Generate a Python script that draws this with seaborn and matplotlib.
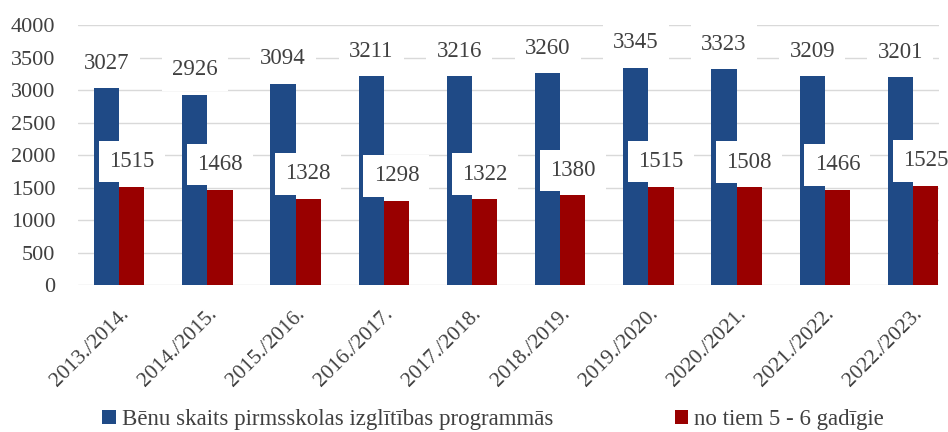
import matplotlib
matplotlib.use("Agg")
import matplotlib.pyplot as plt
import seaborn as sns
import pandas as pd

years = ["2013./2014.", "2014./2015.", "2015./2016.", "2016./2017.", "2017./2018.",
         "2018./2019.", "2019./2020.", "2020./2021.", "2021./2022.", "2022./2023."]
total_children = [3027, 2926, 3094, 3211, 3216, 3260, 3345, 3323, 3209, 3201]
age_5_6 = [1515, 1468, 1328, 1298, 1322, 1380, 1515, 1508, 1466, 1525]

series_total = "Bēnu skaits pirmsskolas izglītības programmās"
series_5_6 = "no tiem 5 - 6 gadīgie"

df = pd.concat([
    pd.DataFrame({"year": years, "value": total_children, "series": series_total}),
    pd.DataFrame({"year": years, "value": age_5_6, "series": series_5_6}),
])

sns.set_style("white")
plt.rcParams["font.family"] = ["Liberation Serif", "DejaVu Serif"]

fig = plt.figure(figsize=(9.48, 4.32), dpi=100)
ax = fig.add_axes([0.082, 0.34, 0.909, 0.602])

palette = {series_total: "#1F4A86", series_5_6: "#990000"}
sns.barplot(data=df, x="year", y="value", hue="series", palette=palette,
            width=0.57, gap=0, saturation=1, linewidth=0, ax=ax, zorder=2)

ax.set_ylim(0, 4000)
ax.set_yticks(range(0, 4001, 500))
ax.yaxis.grid(True, color="#D9D9D9", linewidth=1)
ax.set_axisbelow(True)
for s in ax.spines.values():
    s.set_visible(False)
ax.set_xlabel("")
ax.set_ylabel("")
ax.tick_params(axis="both", length=0, labelsize=16, labelcolor="#404040")
ax.tick_params(axis="y", pad=16)
ax.tick_params(axis="x", pad=14, labelsize=15.5)
plt.setp(ax.get_xticklabels(), rotation=45, ha="right", rotation_mode="anchor")
ax.set_xlim(-0.47, 9.3)

# value labels on white boxes above every bar
for cont in ax.containers:
    for bar in cont:
        h = bar.get_height()
        ax.annotate(f"{int(round(h))}", (bar.get_x() + bar.get_width() / 2, h),
                    xytext=(0, 25), textcoords="offset pixels",
                    ha="center", va="center", fontsize=16.5, color="#404040", zorder=5,
                    bbox=dict(boxstyle="square,pad=0.45", fc="white", ec="none"))

handles, labels = ax.get_legend_handles_labels()
ax.legend(handles, labels, loc="lower center", bbox_to_anchor=(0.52, -0.043),
          bbox_transform=fig.transFigure, ncol=2, frameon=False, fontsize=16.5,
          handlelength=0.6, handleheight=0.6, handletextpad=0.25, columnspacing=5.3,
          labelcolor="#404040")

fig.savefig("out.png", dpi=100)
